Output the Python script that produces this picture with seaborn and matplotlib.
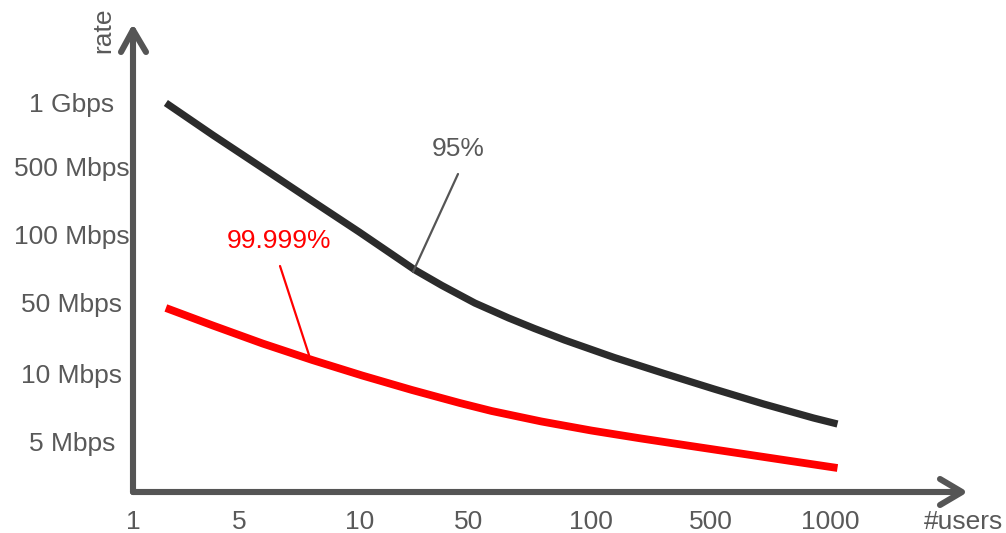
import matplotlib
matplotlib.use("Agg")
import matplotlib.pyplot as plt
import seaborn as sns
import pandas as pd

# ---- data (positions on the schematic tick grid) ----
x_tick_labels = ["1", "5", "10", "50", "100", "500", "1000"]
x_tick_pos = [0.0, 0.915, 1.94, 2.88, 3.932, 4.957, 5.983]
y_tick_labels = ["5 Mbps", "10 Mbps", "50 Mbps", "100 Mbps", "500 Mbps", "1 Gbps"]
y_tick_pos = [0.0, 1.0, 2.044, 3.044, 4.044, 4.985]

x_95 = [0.282, 0.684, 1.111, 1.538, 1.940, 2.419, 2.650, 2.932, 3.222,
        3.444, 3.701, 4.128, 4.556, 4.983, 5.410, 5.838, 6.043]
y_95 = [4.971, 4.500, 4.015, 3.529, 3.074, 2.515, 2.287, 2.029, 1.809,
        1.654, 1.485, 1.228, 0.993, 0.765, 0.544, 0.338, 0.250]

x_99999 = [0.282, 0.684, 1.111, 1.538, 1.966, 2.393, 2.803, 3.077, 3.504, 3.932,
           4.359, 4.786, 5.214, 5.641, 6.043]
y_99999 = [1.956, 1.699, 1.434, 1.191, 0.963, 0.750, 0.559, 0.441, 0.287, 0.154,
           0.037, -0.074, -0.184, -0.294, -0.397]

label_95 = "95%"
label_99999 = "99.999%"

W, H = 1006, 533
GRAY = "#595959"
AXIS = "#555555"
FS = 19

sns.set_style("white")
plt.rcParams["font.family"] = ["Liberation Sans", "DejaVu Sans"]

fig = plt.figure(figsize=(W / 100, H / 100), dpi=100)

# axes placed so the spines sit where the drawn axis lines are
x0p, x1p, y0p, y1p = 133, 963, 492, 28
ax = fig.add_axes([x0p / W, 1 - y0p / H, (x1p - x0p) / W, (y0p - y1p) / H])

def ix(px):
    return (px - 130) / 117.0

def jy(py):
    return (441 - py) / 68.0

ax.set_xlim(ix(x0p), ix(x1p))
ax.set_ylim(jy(y0p), jy(y1p))

df95 = pd.DataFrame({"x": x_95, "y": y_95})
df99 = pd.DataFrame({"x": x_99999, "y": y_99999})
sns.lineplot(data=df95, x="x", y="y", ax=ax, color="#2b2b2b", lw=5.2,
             sort=False, estimator=None, solid_capstyle="butt", solid_joinstyle="round")
sns.lineplot(data=df99, x="x", y="y", ax=ax, color="#ff0000", lw=5.6,
             sort=False, estimator=None, solid_capstyle="butt", solid_joinstyle="round")

for s in ax.spines.values():
    s.set_visible(False)

ax.set_xticks(x_tick_pos)
ax.set_xticklabels(x_tick_labels, fontsize=FS, color=GRAY)
ax.set_yticks(y_tick_pos)
ax.set_yticklabels(y_tick_labels, fontsize=FS, color=GRAY, ha="center")
ax.tick_params(axis="x", length=0, pad=13)
ax.tick_params(axis="y", length=0, pad=44)
ax.set_xlabel("")
ax.set_ylabel("")

# axis lines with open arrowheads (figure pixel coords)
def P(px, py):
    return px / W, 1 - py / H

def fline(pts, **kw):
    xs = [P(*p)[0] for p in pts]
    ys = [P(*p)[1] for p in pts]
    fig.add_artist(plt.Line2D(xs, ys, transform=fig.transFigure, **kw))

akw = dict(color=AXIS, lw=4.4, solid_capstyle="round", solid_joinstyle="round")
fline([(133, 492), (133, 30)], **akw)
fline([(121, 52), (133, 30), (146, 52)], **akw)
fline([(133, 492), (961, 492)], **akw)
fline([(940, 479), (962, 492), (940, 505)], **akw)

# axis titles
fig.text(*P(103, 30), "rate", rotation=90, ha="center", va="center",
         fontsize=FS, color=GRAY)
fig.text(*P(963, 522), "#users", ha="center", va="center", fontsize=FS, color=GRAY)

# callouts
fig.text(*P(458, 149), label_95, ha="center", va="center", fontsize=FS, color=GRAY)
fline([(458, 174), (413, 272)], color=AXIS, lw=1.6)
fig.text(*P(279, 241), label_99999, ha="center", va="center", fontsize=FS, color="#ff0000")
fline([(280, 266), (309, 355)], color="#ff0000", lw=1.6)

fig.savefig("out.png", dpi=100)
